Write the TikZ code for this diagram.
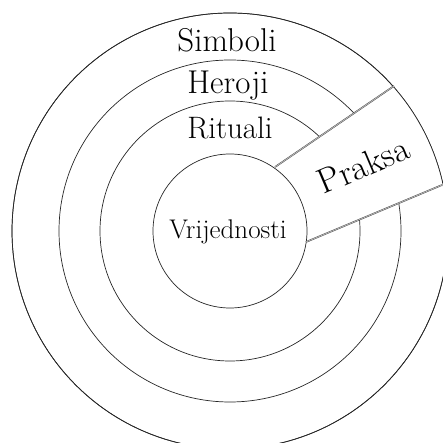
\documentclass[tikz,border=0pt]{standalone}
\begin{document}
\begin{tikzpicture}[x=1pt,y=1pt,
  ring/.style={draw=black!85,line width=0.7pt},
  dbl/.style={draw=black!70,line width=0.45pt,double=black!25,double distance=0.7pt},
  lbl/.style={inner sep=0pt,anchor=base,font=\fontsize{33}{36}\selectfont}]
\useasboundingbox (0,0) rectangle (443,443);
\clip (0,0) rectangle (443,443);
\coordinate (c) at (230,212);
\draw[ring] (c) circle[radius=218];
\draw[ring] (c) circle[radius=171];
\draw[ring] (c) circle[radius=130];
\coordinate (u1) at (275,276);
\coordinate (u2) at (394,357);
\coordinate (l1) at (306,201);
\coordinate (l2) at (442,258);
\begin{scope}
  \clip (c) circle[radius=218];
  \fill[white] (u1) -- (u2) -- (460,402) -- (500,282) -- (l2) -- (l1) -- cycle;
\end{scope}
\draw[ring] (c) circle[radius=218];
\draw[ring] (c) circle[radius=77];
\draw[dbl] (u1) -- (u2);
\draw[dbl] (l1) -- (l2);
\node[lbl] (simboli) at (227,391) {Simboli};
\node[lbl] (heroji) at (228,349) {Heroji};
\node[lbl,font=\fontsize{31}{34}\selectfont] (rituali) at (230,304) {Rituali};
\node[lbl,font=\fontsize{27}{30}\selectfont] (vrij) at (228,204) {Vrijednosti};
\node[lbl,rotate=23,font=\fontsize{35}{38}\selectfont] (praksa) at (368,267) {Praksa};
\end{tikzpicture}
\end{document}
